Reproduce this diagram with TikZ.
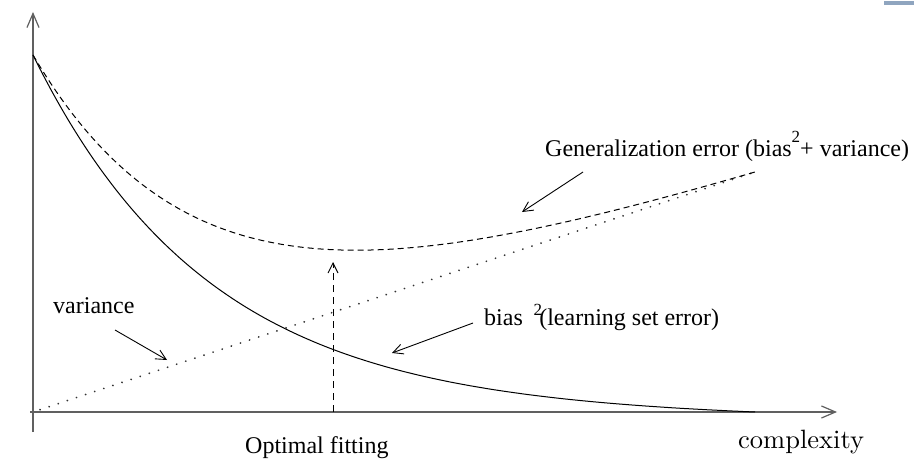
\documentclass[tikz,border=0pt]{standalone}
\usepackage{fontspec}
\setmainfont{Liberation Serif}
\newfontfamily\cmten{lmroman10-regular}[Extension=.otf]
\usetikzlibrary{arrows.meta}
\definecolor{axisgray}{HTML}{606060}
\definecolor{barblue}{HTML}{8FA5BF}
\begin{document}
\begin{tikzpicture}[x=1pt,y=-1pt,
  declare function={
    bs(\x)=357*exp(-0.00568*(\x-33)) - 0.008172*(\x-33);
    vr(\x)=0.33241*(\x-33);
  },
  axis/.style={draw=axisgray, line width=1.4pt,
    -{Straight Barb[length=14pt,width=12pt,line width=1.2pt]}},
  pointer/.style={line width=0.9pt,
    -{Straight Barb[length=10pt,width=10pt,line width=0.9pt]}},
  txt/.style={anchor=base west, inner sep=0pt,
    font=\fontsize{24}{28}\selectfont},
  curve/.style={line width=1pt},
]
\useasboundingbox (0,0) rectangle (914,460);

% small bar in the upper right corner
\fill[barblue] (884,1) rectangle (914,5);

% axes
\coordinate (O)  at (33,412);
\coordinate (yb) at (33,432);
\coordinate (yt) at (33,12);
\coordinate (xl) at (30,412);
\coordinate (xr) at (837,412);
\draw[axis] (yb) -- (yt);
\draw[axis] (xl) -- (xr);

% bias^2: learning set error
\draw[curve] plot[domain=33:755, samples=120, smooth] (\x, {412 - bs(\x)});

% variance
\coordinate (v0) at (40,{412 - vr(40)});
\coordinate (v1) at (755,{412 - vr(755)});
\draw[line width=1.9pt, line cap=round, dash pattern=on 0.1pt off 9.5pt, black!80] (v0) -- (v1);

% generalization error = bias^2 + variance
\draw[curve, dash pattern=on 6pt off 4pt]
  plot[domain=33:755, samples=120, smooth] (\x, {412 - bs(\x) - vr(\x)});

% optimal fitting marker
\coordinate (of0) at (333,412);
\coordinate (of1) at (333,262);
\draw[pointer, dash pattern=on 7pt off 5pt] (of0) -- (of1);

% labels
\node[txt] (gen) at (545,156) {Generalization error (bias\raisebox{0.55em}{\fontsize{17}{17}\selectfont 2}+ variance)};
\node[txt] (bias) at (484,325) {bias\hspace{0.45em}\raisebox{0.38em}{\fontsize{17}{17}\selectfont 2}\hspace{-0.12em}(learning set error)};
\node[txt] (var) at (53,313) {variance};
\node[txt] (opt) at (245,453) {Optimal fitting};
\node[anchor=base west, inner sep=0pt, font=\cmten\fontsize{26.5}{30}\selectfont] (cx) at (738,448) {complexity};

% label pointers
\coordinate (ga) at (583,172);
\coordinate (gb) at (522,212);
\draw[pointer] (ga) -- (gb);
\coordinate (ba) at (473,323);
\coordinate (bb) at (392,353);
\draw[pointer] (ba) -- (bb);
\coordinate (va) at (115,330);
\coordinate (vb) at (167,360);
\draw[pointer] (va) -- (vb);
\end{tikzpicture}
\end{document}
